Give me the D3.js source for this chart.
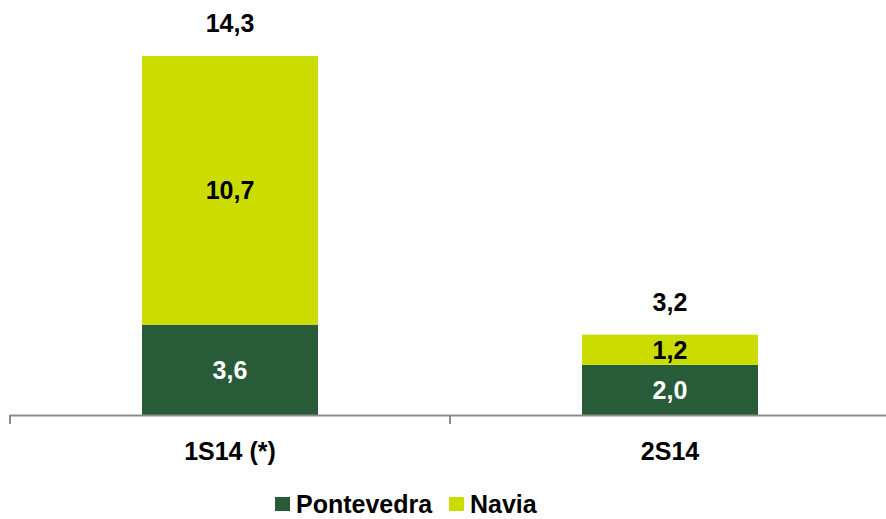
<!DOCTYPE html>
<html>
<head>
<meta charset="utf-8">
<script src="https://cdn.jsdelivr.net/npm/d3@7"></script>
<style>
    html, body { margin: 0; padding: 0; background: #fff; }
    text { font-family: "Liberation Sans", Arial, sans-serif; font-weight: bold; }
</style>
</head>
<body>
<div id="chart"></div>
<script>
// Data
const categories = ['1S14 (*)', '2S14'];
const seriesNames = ['Pontevedra', 'Navia'];
const pontevedra = [3.6, 2.0];
const navia = [10.7, 1.2];
const totals = [14.3, 3.2];
const colors = ['#285B38', '#CBDC00'];

const width = 886, height = 519;
const baseY = 415;

const svg = d3.select('#chart')
    .append('svg')
    .attr('width', width)
    .attr('height', height);

const x = d3.scaleBand()
    .domain(categories)
    .range([10, 890])
    .paddingInner(0.6)
    .paddingOuter(0.3);

const y = d3.scaleLinear()
    .domain([0, 16])
    .range([baseY, baseY - 16 * 25.1]);

const fmt = v => d3.format('.1f')(v).replace('.', ',');

// Build stack
const rows = categories.map((c, i) => ({ cat: c, Pontevedra: pontevedra[i], Navia: navia[i] }));
const stacked = d3.stack().keys(seriesNames)(rows);

const layers = svg.selectAll('.layer')
    .data(stacked)
    .enter()
    .append('g')
    .attr('class', 'layer')
    .attr('fill', (d, i) => colors[i]);

layers.selectAll('rect')
    .data(d => d)
    .enter()
    .append('rect')
    .attr('x', d => x(d.data.cat))
    .attr('width', x.bandwidth())
    .attr('y', d => y(d[1]))
    .attr('height', d => y(d[0]) - y(d[1]));

// Segment labels
stacked.forEach((layer, li) => {
    svg.selectAll(`.seg-label-${li}`)
        .data(layer)
        .enter()
        .append('text')
        .attr('x', d => x(d.data.cat) + x.bandwidth() / 2)
        .attr('y', d => (y(d[0]) + y(d[1])) / 2)
        .attr('dy', '0.36em')
        .attr('text-anchor', 'middle')
        .style('font-size', '25px')
        .attr('fill', li === 0 ? '#ffffff' : '#000000')
        .text(d => fmt(d[1] - d[0]));
});

// Total labels
svg.selectAll('.total-label')
    .data(categories)
    .enter()
    .append('text')
    .attr('x', d => x(d) + x.bandwidth() / 2)
    .attr('y', (d, i) => y(totals[i]) - 24)
    .attr('text-anchor', 'middle')
    .style('font-size', '25px')
    .attr('fill', '#000')
    .text((d, i) => fmt(totals[i]));

// Axis line and ticks at band boundaries
const step = x.step();
const axisStart = x.range()[0];
svg.append('line')
    .attr('x1', axisStart)
    .attr('x2', width)
    .attr('y1', baseY + 0.5)
    .attr('y2', baseY + 0.5)
    .attr('stroke', '#8c8c8c')
    .attr('stroke-width', 2);

d3.range(categories.length + 1).forEach(i => {
    svg.append('line')
        .attr('x1', axisStart + i * step)
        .attr('x2', axisStart + i * step)
        .attr('y1', baseY)
        .attr('y2', baseY + 9)
        .attr('stroke', '#8c8c8c')
        .attr('stroke-width', 2);
});

// Category labels
svg.selectAll('.cat-label')
    .data(categories)
    .enter()
    .append('text')
    .attr('x', d => x(d) + x.bandwidth() / 2)
    .attr('y', 460)
    .attr('text-anchor', 'middle')
    .style('font-size', '25px')
    .attr('fill', '#000')
    .text(d => d);

// Legend
const legendItems = [
    { name: seriesNames[0], color: colors[0], x: 275 },
    { name: seriesNames[1], color: colors[1], x: 449 }
];
const legend = svg.append('g').attr('class', 'legend');
legendItems.forEach(item => {
    legend.append('rect')
        .attr('x', item.x)
        .attr('y', 497)
        .attr('width', 15)
        .attr('height', 14)
        .attr('fill', item.color);
    legend.append('text')
        .attr('x', item.x + 21)
        .attr('y', 513)
        .style('font-size', '25px')
        .attr('fill', '#000')
        .text(item.name);
});
</script>
</body>
</html>
